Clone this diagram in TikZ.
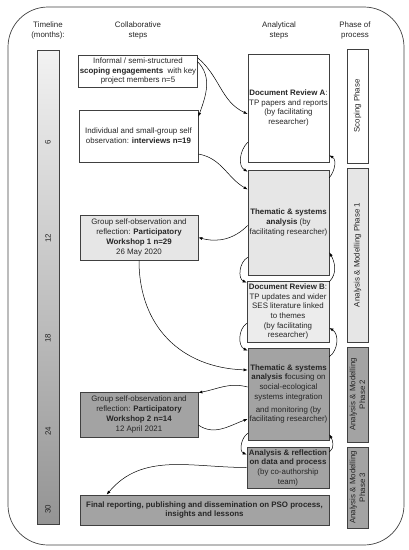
\documentclass[tikz,border=0pt]{standalone}
\usepackage{fontspec}
\setmainfont{Liberation Sans}
\usetikzlibrary{arrows.meta}
\definecolor{lightg}{HTML}{E6E6E6}
\definecolor{paleg}{HTML}{ECECEC}
\definecolor{darkg}{HTML}{A3A3A3}
\definecolor{edge}{HTML}{404040}
\definecolor{txt}{HTML}{262626}
\begin{document}
\begin{tikzpicture}[x=1pt,y=1pt,
  every node/.style={font=\fontsize{7.9}{9.7}\selectfont, align=center, text=txt},
  box/.style={draw=edge, line width=0.7pt, inner sep=1pt},
  head/.style={font=\fontsize{7.9}{10}\selectfont},
  arr/.style={-{Latex[length=4pt,width=3pt]}, line width=0.5pt, black},
  phase/.style={box, rotate=90, minimum height=21pt, inner sep=0.5pt},
]
\useasboundingbox (0,0) rectangle (409,-550);
\draw[line width=0.7pt, edge, rounded corners=40pt] (8,-7) rectangle (404,-545);

% headers
\node[head] (h1) at (48,-30) {Timeline\\(months):};
\node[head] (h2) at (138,-30) {Collaborative\\steps};
\node[head] (h3) at (279,-30) {Analytical\\steps};
\node[head] (h4) at (355,-30) {Phase of\\process};

% timeline
\node[draw=edge, line width=0.7pt, top color=white!95!black, bottom color=black!42, minimum width=22pt, minimum height=474pt, inner sep=0pt] (tl) at (48,-287) {};
\node[rotate=90] (t6) at (48,-142) {6};
\node[rotate=90] (t12) at (48,-238) {12};
\node[rotate=90] (t18) at (48,-338) {18};
\node[rotate=90] (t24) at (48,-431) {24};
\node[rotate=90] (t30) at (48,-509) {30};

% collaborative steps
\node[box, fill=white, minimum width=118pt, minimum height=32pt] (b1) at (138,-71)
  {Informal / semi-structured\\ \textbf{scoping engagements}\ \ with key\\ project members n=5};
\node[box, fill=white, minimum width=119pt, minimum height=52pt] (b2) at (138.5,-136)
  {Individual and small-group self\\ observation: \textbf{interviews n=19}};
\node[box, fill=lightg, minimum width=118pt, minimum height=45pt] (ws1) at (139,-237.5)
  {Group self-observation and\\ reflection: \textbf{Participatory}\\ \textbf{Workshop 1 n=29}\\ 26 May 2020};
\node[box, fill=darkg, minimum width=118pt, minimum height=45pt] (ws2) at (139,-414.5)
  {Group self-observation and\\ reflection: \textbf{Participatory}\\ \textbf{Workshop 2 n=14}\\ 12 April 2021};

% analytical steps
\node[box, fill=white, minimum width=81pt, minimum height=108pt] (docA) at (288.5,-108)
  {\textbf{Document Review A}:\\ TP papers and reports\\ (by facilitating\\ researcher)};
\node[box, fill=lightg, minimum width=81pt, minimum height=105pt] (th1) at (288.5,-222.5)
  {\textbf{Thematic \& systems}\\ \textbf{analysis} (by\\ facilitating researcher)};
\node[box, fill=paleg, minimum width=82pt, minimum height=61pt] (docB) at (288,-311.5)
  {\textbf{Document Review B}:\\ TP updates and wider\\ SES literature linked\\ to themes\\ (by facilitating\\ researcher)};
\node[box, fill=darkg, minimum width=81pt, minimum height=92pt] (th2) at (288.5,-394)
  {\textbf{Thematic \& systems}\\ \textbf{analysis f}ocusing on\\ social-ecological\\ systems integration\\[3pt] and monitoring (by\\ facilitating researcher)};
\node[box, fill=darkg, minimum width=82pt, minimum height=41pt] (ar) at (288,-467.5)
  {\textbf{Analysis \& reflection}\\ \textbf{on data and process}\\ (by co-authorship\\ team)};
\node[box, fill=darkg, minimum width=249pt, minimum height=30pt] (fin) at (204.5,-510)
  {\textbf{Final reporting, publishing and dissemination on PSO process,}\\ \textbf{insights and lessons}};

% phases
\node[phase, fill=white, minimum width=114pt] (p0) at (357.5,-106) {Scoping Phase};
\node[phase, fill=lightg, minimum width=174pt] (p1) at (357.5,-255) {Analysis \& Modelling Phase 1};
\node[phase, fill=darkg, minimum width=95pt] (p2) at (357.5,-394.5) {Analysis \& Modelling\\Phase 2};
\node[phase, fill=darkg, minimum width=81pt] (p3) at (357.5,-487.5) {Analysis \& Modelling\\Phase 3};

% connectors
\draw[arr] ([yshift=-3pt]b1.north east) to[out=-40,in=155] ([yshift=-6pt]docA.west);
\draw[arr] ([yshift=-7pt]b1.north east) to[out=-45,in=70] ([yshift=-7pt]b2.north east);
\draw[arr] ([yshift=-18pt]b2.east) to[out=-10,in=150] ([yshift=33pt]th1.west);
\draw[arr] ([yshift=20pt]docA.south west) to[out=225,in=150] ([yshift=-2pt]th1.north west);
\draw[arr] ([yshift=-8pt]th1.north east) to[out=50,in=-30] ([yshift=7pt]docA.south east);
\draw[arr] ([yshift=-3pt]th1.west) to[out=225,in=-15] (ws1.east);
\draw[arr] ([yshift=18pt]th1.south west) to[out=210,in=155] ([yshift=-2pt]docB.north west);
\draw[arr] ([yshift=-1pt]docB.north east) to[out=45,in=-60] ([yshift=-30pt]th1.east);
\draw[arr] ([yshift=19pt]docB.south west) to[out=215,in=155] ([yshift=-3pt]th2.north west);
\draw[arr] ([yshift=-9pt]th2.north east) to[out=35,in=-30] ([yshift=-16.5pt]docB.east);
\draw[arr] (ws1.south) to[out=-90,in=178,looseness=1.1] ([yshift=24pt]th2.west);
\draw[arr] ([yshift=7pt]th2.west) to[out=165,in=10] ([yshift=-1pt]ws2.north east);
\draw[arr] ([yshift=-10.5pt]ws2.east) to[out=-35,in=200] ([yshift=-25pt]th2.west);
\draw[arr] ([yshift=7pt]th2.south west) to[out=215,in=155] ([yshift=-8pt]ar.north west);
\draw[arr] ([yshift=15.5pt]ar.east) to[out=35,in=-60] ([yshift=6pt]th2.south east);
\draw[arr] (ar.west) to[out=180,in=50] ([xshift=27pt]fin.north west);
\end{tikzpicture}
\end{document}
